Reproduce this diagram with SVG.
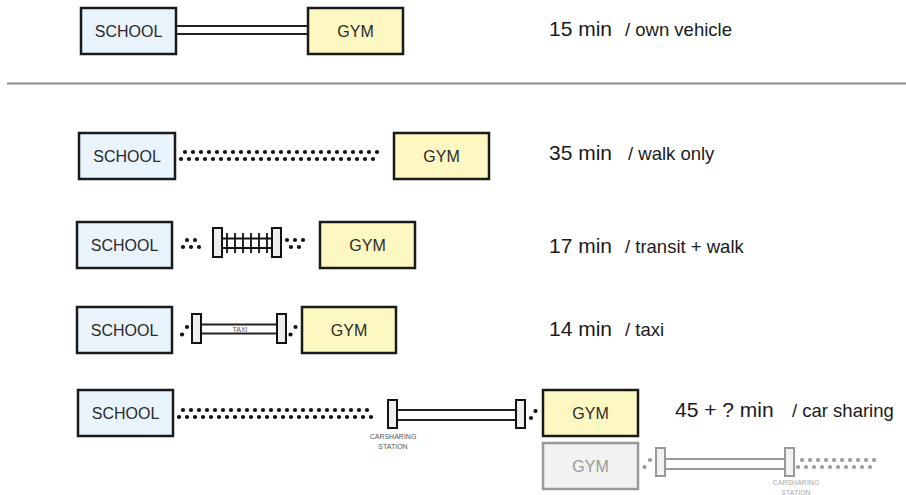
<svg xmlns="http://www.w3.org/2000/svg" width="906" height="495" viewBox="0 0 906 495">
<style>
.box{stroke:#1a1a1a;stroke-width:2.5}
.school{fill:#e9f3fc}
.gym{fill:#fdf7c1}
.ghost{fill:#f2f2f2;stroke:#9a9a9a;stroke-width:2.5}
.lbl{font-family:"Liberation Sans",Arial,sans-serif;font-size:16px;fill:#2a2a2a;text-anchor:middle}
.glbl{font-family:"Liberation Sans",Arial,sans-serif;font-size:16px;fill:#9a9a9a;text-anchor:middle}
.t{font-family:"Liberation Sans",Arial,sans-serif;font-size:21px;fill:#1a1a1a}
.m{font-family:"Liberation Sans",Arial,sans-serif;font-size:18.5px;fill:#1a1a1a}
.dots{stroke:#111;stroke-width:4.2;stroke-linecap:round;stroke-dasharray:0 8;fill:none}
.gdots{stroke:#999;stroke-width:4.2;stroke-linecap:round;stroke-dasharray:0 8;fill:none}
.road{fill:#fff;stroke:#222;stroke-width:2}
.groad{fill:#fff;stroke:#999;stroke-width:2}
.stop{fill:#eeeeee;stroke:#111;stroke-width:2}
.gstop{fill:#f2f2f2;stroke:#999;stroke-width:2}
.rail{stroke:#111;stroke-width:1.8;fill:none}
.tiny{font-family:"Liberation Sans",Arial,sans-serif;font-size:7px;fill:#555;text-anchor:middle}
.gtiny{font-family:"Liberation Sans",Arial,sans-serif;font-size:7px;fill:#aaa;text-anchor:middle}
.dot{fill:#111}
.gdot{fill:#999}
</style>

<line x1="7" y1="83.5" x2="906" y2="83.5" stroke="#8a8a8a" stroke-width="2"/>

<g id="connectors">
  <!-- row 1 own vehicle -->
  <rect class="road" x="176" y="26" width="132" height="8"/>
  <!-- row 2 walk -->
  <line class="dots" x1="185" y1="152" x2="385" y2="152"/>
  <line class="dots" x1="181" y1="159" x2="381" y2="159"/>
  <!-- row 3 transit -->
  <line class="dots" x1="187" y1="240" x2="203" y2="240"/>
  <line class="dots" x1="183" y1="247" x2="207" y2="247"/>
  <line class="rail" x1="223" y1="238.5" x2="271" y2="238.5"/>
  <line class="rail" x1="223" y1="248" x2="271" y2="248"/>
  <path class="rail" d="M227 233V253M235 233V253M243 233V253M251 233V253M259 233V253M267 233V253"/>
  <rect class="stop" x="213" y="228" width="9" height="29"/>
  <rect class="stop" x="272" y="228" width="9" height="29"/>
  <line class="dots" x1="287" y1="240" x2="311" y2="240"/>
  <line class="dots" x1="291" y1="247" x2="307" y2="247"/>
  <!-- row 4 taxi -->
  <circle class="dot" cx="182" cy="334.5" r="2.1"/>
  <circle class="dot" cx="187" cy="327" r="2.1"/>
  <rect class="road" x="201" y="324.5" width="76" height="9"/>
  <rect class="stop" x="192" y="314" width="9" height="29"/>
  <rect class="stop" x="277" y="314" width="9" height="29"/>
  <text class="tiny" x="240" y="332">TAXI</text>
  <circle class="dot" cx="290.5" cy="334.5" r="2.1"/>
  <circle class="dot" cx="295.5" cy="327" r="2.1"/>
  <!-- row 5 car sharing -->
  <line class="dots" x1="183" y1="410" x2="375" y2="410"/>
  <line class="dots" x1="179" y1="417" x2="379" y2="417"/>
  <rect class="road" x="397" y="410" width="119" height="10"/>
  <rect class="stop" x="388" y="400" width="9" height="28"/>
  <rect class="stop" x="516" y="400" width="9" height="28"/>
  <circle class="dot" cx="531" cy="418" r="2.1"/>
  <circle class="dot" cx="535.5" cy="411" r="2.1"/>
  <text class="tiny" x="393" y="439">CARSHARING</text>
  <text class="tiny" x="393" y="449">STATION</text>
  <!-- row 6 ghost -->
  <circle class="gdot" cx="644.5" cy="467" r="2.1"/>
  <circle class="gdot" cx="650" cy="460" r="2.1"/>
  <rect class="groad" x="665" y="459" width="120" height="10"/>
  <rect class="gstop" x="656" y="448" width="9" height="28"/>
  <rect class="gstop" x="785" y="448" width="9" height="28"/>
  <line class="gdots" x1="802" y1="460" x2="882" y2="460"/>
  <line class="gdots" x1="798" y1="467" x2="878" y2="467"/>
  <text class="gtiny" x="796" y="485">CARSHARING</text>
  <text class="gtiny" x="796" y="495">STATION</text>
</g>

<g id="school1"><rect class="box school" x="81" y="8" width="95" height="46"/><text class="lbl" x="128.5" y="37">SCHOOL</text></g>
<g id="gym1"><rect class="box gym" x="308" y="8" width="95" height="46"/><text class="lbl" x="355.5" y="37">GYM</text></g>
<g id="label1"><text class="t" x="549" y="36">15 min</text><text class="m" x="625" y="36">/ own vehicle</text></g>

<g id="school2"><rect class="box school" x="79" y="133" width="96" height="46"/><text class="lbl" x="127" y="162">SCHOOL</text></g>
<g id="gym2"><rect class="box gym" x="394" y="133" width="95" height="46"/><text class="lbl" x="441.5" y="162">GYM</text></g>
<g id="label2"><text class="t" x="549" y="160">35 min</text><text class="m" x="628" y="160">/ walk only</text></g>

<g id="school3"><rect class="box school" x="77" y="222" width="95" height="46"/><text class="lbl" x="124.5" y="251">SCHOOL</text></g>
<g id="gym3"><rect class="box gym" x="320" y="222" width="95" height="46"/><text class="lbl" x="367.5" y="251">GYM</text></g>
<g id="label3"><text class="t" x="549" y="253">17 min</text><text class="m" x="625" y="253">/ transit + walk</text></g>

<g id="school4"><rect class="box school" x="77" y="307" width="95" height="46"/><text class="lbl" x="124.5" y="336">SCHOOL</text></g>
<g id="gym4"><rect class="box gym" x="302" y="307" width="94" height="46"/><text class="lbl" x="349" y="336">GYM</text></g>
<g id="label4"><text class="t" x="549" y="336">14 min</text><text class="m" x="625" y="336">/ taxi</text></g>

<g id="school5"><rect class="box school" x="78" y="390" width="95" height="46"/><text class="lbl" x="125.5" y="419">SCHOOL</text></g>
<g id="gym5"><rect class="box gym" x="543" y="390" width="95" height="46"/><text class="lbl" x="590.5" y="419">GYM</text></g>
<g id="label5"><text class="t" x="675" y="417">45 + ? min</text><text class="m" x="792" y="417">/ car sharing</text></g>

<g id="gym6"><rect class="ghost" x="543" y="443" width="95" height="46"/><text class="glbl" x="590.5" y="472">GYM</text></g>
</svg>
